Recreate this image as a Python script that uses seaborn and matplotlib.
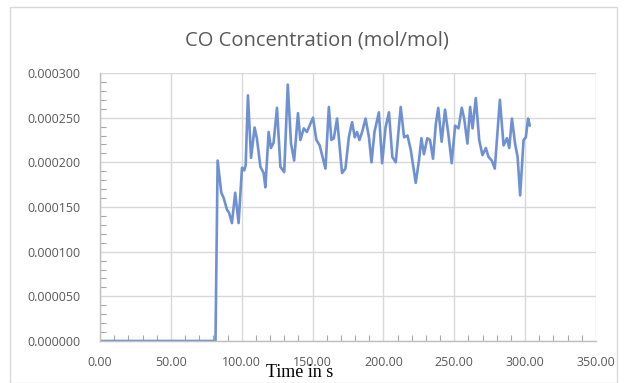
import matplotlib
matplotlib.use("Agg")
import matplotlib.pyplot as plt
import seaborn as sns
import pandas as pd
from matplotlib.patches import Rectangle
from matplotlib.ticker import MultipleLocator, FormatStrFormatter

# values (time in s, CO in mol/mol * 1e-6)
time_s = [0.0, 81.5, 83.0, 85.6, 87.3, 89.6, 91.2, 93.1, 95.4, 97.8, 100.2, 101.8, 102.8,
          104.4, 106.6, 109.1, 110.7, 113.2, 115.5, 116.7, 119.0, 120.6, 122.5, 124.9,
          127.3, 130.0, 132.5, 134.8, 137.0, 139.7, 141.4, 143.8, 146.0, 150.3, 152.7,
          155.0, 159.1, 161.5, 163.3, 165.0, 167.3, 170.8, 173.2, 175.6, 177.9, 179.8,
          181.4, 183.1, 185.0, 187.4, 189.8, 191.6, 193.7, 196.8, 199.1, 201.5, 203.9,
          206.3, 208.7, 212.2, 214.6, 217.0, 219.3, 222.8, 225.1, 226.8, 228.6, 231.0,
          232.9, 235.0, 237.0, 238.7, 241.1, 243.5, 245.8, 248.2, 250.6, 253.0, 255.3,
          257.0, 259.3, 261.2, 262.9, 265.2, 267.6, 269.9, 272.3, 274.2, 276.5, 278.6,
          282.2, 284.8, 287.2, 288.8, 290.7, 292.9, 294.7, 296.5, 298.9, 300.5, 302.1,
          303.3]
co_ppm = [0, 0, 202, 166, 160, 147, 143, 132, 166, 132, 194, 191, 197,
          275, 205, 239, 227, 195, 188, 172, 234, 216, 222, 261,
          195, 189, 287, 221, 202, 255, 225, 238, 234, 250, 225,
          219, 193, 262, 225, 227, 249, 188, 193, 228, 245, 228,
          234, 225, 234, 249, 228, 200, 234, 256, 199, 239, 256,
          206, 200, 262, 228, 230, 214, 177, 202, 227, 209, 227,
          225, 204, 243, 261, 223, 259, 232, 199, 241, 238, 261,
          249, 221, 262, 238, 272, 225, 208, 216, 206, 202, 193,
          270, 219, 227, 216, 249, 221, 206, 163, 225, 228, 249,
          241]

df = pd.DataFrame({"time": time_s, "co": [v * 1e-6 for v in co_ppm]})

sns.set_style("white")
plt.rcParams["font.family"] = ["Open Sans", "DejaVu Sans"]

GRID = "#d9d9d9"
TEXT = "#595959"

fig = plt.figure(figsize=(6.27, 3.83), dpi=100)
ax = fig.add_axes([0.1595, 0.1097, 0.791, 0.6997])

sns.lineplot(data=df, x="time", y="co", ax=ax, color="#6f91d3", linewidth=1.9)

ax.set_xlim(0, 350)
ax.set_ylim(0, 0.0003)
ax.xaxis.set_major_locator(MultipleLocator(50))
ax.xaxis.set_minor_locator(MultipleLocator(10))
ax.yaxis.set_major_locator(MultipleLocator(0.00005))
ax.yaxis.set_minor_locator(MultipleLocator(0.00001))
ax.xaxis.set_major_formatter(FormatStrFormatter("%.2f"))
ax.yaxis.set_major_formatter(FormatStrFormatter("%.6f"))

ax.grid(True, which="major", color=GRID, linewidth=1.0)
ax.set_axisbelow(True)
for side in ["top", "right"]:
    ax.spines[side].set_visible(False)
for side in ["left", "bottom"]:
    ax.spines[side].set_color("#bfbfbf")
    ax.spines[side].set_linewidth(1.0)

# seaborn's white style switches the ticks off, turn them back on for the minor marks
ax.tick_params(bottom=True, left=True, which="both")
ax.tick_params(which="major", length=0, labelsize=9, labelcolor=TEXT)
ax.tick_params(axis="x", which="major", pad=11)
ax.tick_params(axis="y", which="major", pad=14)
ax.tick_params(which="minor", direction="in", length=4, width=0.8, color="#a6a6a6")
ax.set_xlabel("")
ax.set_ylabel("")

fig.text(0.506, 0.895, "CO Concentration (mol/mol)", ha="center", va="center",
         fontsize=14.5, color=TEXT)
# the x label sits low and overlaps the tick labels, as in the reference
fig.text(0.478, 0.027, "Time in s", ha="center", va="center", fontsize=13,
         color="black", family=["Liberation Serif", "DejaVu Serif"])

fig.patches.append(Rectangle((0.016, 0.0), 0.968, 0.982, transform=fig.transFigure,
                             fill=False, edgecolor=GRID, linewidth=1.0))

fig.savefig("out.png", dpi=100)
